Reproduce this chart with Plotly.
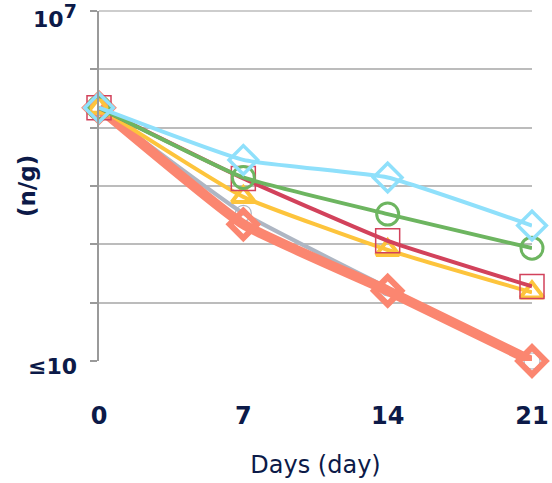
import plotly.graph_objects as go

# Sampling days and counts per treatment (n/g)
days = [0, 7, 14, 21]
blue_vals = [2.2e5, 2.8e4, 1.4e4, 2.1e3]
green_vals = [2.2e5, 1.4e4, 3.3e3, 8.6e2]
red_vals = [2.2e5, 1.35e4, 1.15e3, 1.9e2]
yellow_vals = [2.2e5, 6.5e3, 8.0e2, 1.5e2]
gray_vals = [2.2e5, 3.4e3, 1.8e2, 10]
coral_vals = [2.2e5, 2.2e3, 1.6e2, 10]

y_tickvals = [1e1, 1e2, 1e3, 1e4, 1e5, 1e6, 1e7]
# only the two end decades carry a label
y_end_labels = {1: "≤10", 7: "10<sup><span style='font-size:19px'>7</span></sup>"}
x_tickvals = [0, 7, 14, 21]

NAVY = "#0c1a48"
FONT = "DejaVu Sans"

fig = go.Figure()


def add_series(vals, color, width, symbol, msize, mwidth):
    fig.add_trace(go.Scatter(
        x=days, y=vals, mode="lines+markers",
        line=dict(color=color, width=width, shape="spline", smoothing=0.4),
        marker=dict(symbol=symbol, size=msize, color=color,
                    line=dict(color=color, width=mwidth)),
        cliponaxis=False, showlegend=False,
    ))


add_series(gray_vals, "#aeb6c3", 4, "circle-open", 16, 1.2)
add_series(coral_vals, "#fb8670", 10, "diamond-open", 21, 6)
add_series(yellow_vals, "#fdc43c", 4, "triangle-up-open", 20, 4)
add_series(red_vals, "#d2425b", 4, "square-open", 24, 1.5)
add_series(green_vals, "#6db560", 4, "circle-open", 22, 3)
add_series(blue_vals, "#8fe0fb", 4, "diamond-open", 22, 3.5)

annotations = [dict(
    text="(n/g)", textangle=-90, showarrow=False,
    xref="paper", yref="paper", x=-0.166, y=0.5,
    xanchor="center", yanchor="middle",
    font=dict(size=23, family=FONT, weight="bold", color=NAVY),
)]
for logv, txt in y_end_labels.items():
    annotations.append(dict(
        text=txt, showarrow=False,
        xref="paper", yref="y", x=-0.046, y=logv,
        xanchor="right", yanchor="middle", yshift=-5,
        font=dict(size=22, family=FONT, weight="bold", color=NAVY),
    ))

fig.update_layout(
    width=552, height=483,
    margin=dict(l=99, r=20, t=11, b=122, autoexpand=False),
    paper_bgcolor="white", plot_bgcolor="white",
    font=dict(family=FONT, color=NAVY),
    xaxis=dict(
        range=[0, 21], tickvals=x_tickvals, ticks="",
        showgrid=False, zeroline=False, showline=False,
        automargin=False, ticklabeloverflow="allow",
        tickfont=dict(size=24, family=FONT, weight="bold", color=NAVY),
        ticklabelstandoff=38,
        title=dict(text="Days (day)", font=dict(size=24, family=FONT, color=NAVY),
                   standoff=27),
    ),
    yaxis=dict(
        type="log", range=[1, 7],
        tickvals=y_tickvals, showticklabels=False,
        ticks="outside", ticklen=7, tickcolor="#9a9a9a", tickwidth=1.5,
        showgrid=True, gridcolor="#bcbcbc", gridwidth=1.5,
        showline=True, linecolor="#9a9a9a", linewidth=1.5,
        zeroline=False, automargin=False,
    ),
    shapes=[dict(
        type="line", xref="x domain", yref="y domain",
        x0=0, x1=1, y0=1, y1=1, layer="below",
        line=dict(color="#bcbcbc", width=1.5),
    )],
    annotations=annotations,
)

fig.write_html("out.html")
